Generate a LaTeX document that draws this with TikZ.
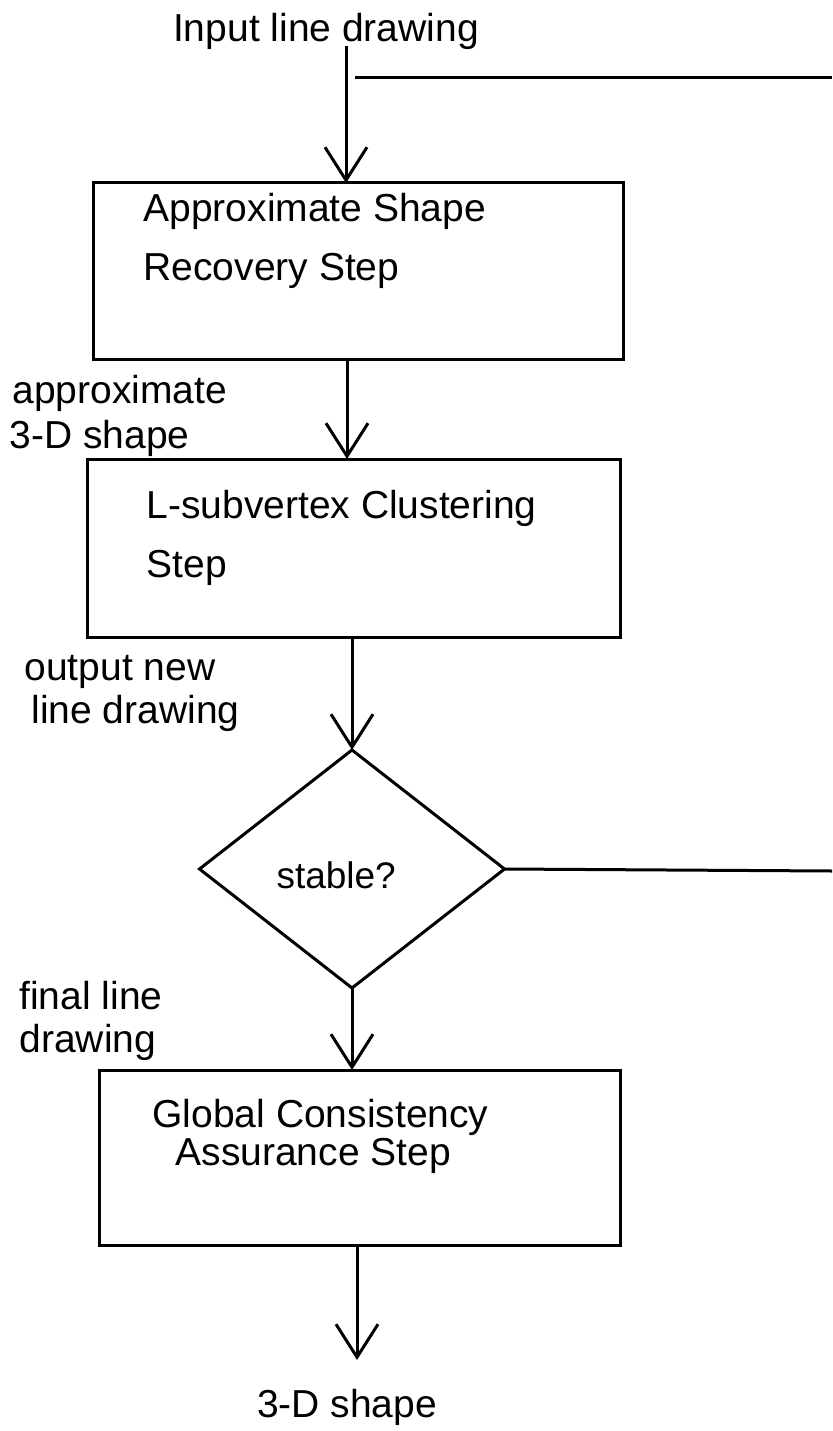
\documentclass[tikz,border=0pt]{standalone}
\usepackage{fontspec}
\setmainfont{Liberation Sans}
\usetikzlibrary{arrows.meta,shapes.geometric}
\begin{document}
\begin{tikzpicture}[x=1pt,y=-1pt,
  line width=3pt,
  box/.style={draw, rectangle, inner sep=0pt, outer sep=0pt},
  lbl/.style={anchor=base west, inner sep=0pt, font=\fontsize{39}{46}\selectfont},
  arr/.style={-{Straight Barb[length=33pt,width=42pt]}},
]
\useasboundingbox (0,0) rectangle (832,1431);

% boxes
\node[box, minimum width=530pt, minimum height=176pt] (box1) at (358,271) {};
\node[box, minimum width=533pt, minimum height=178pt] (box2) at (353.5,548) {};
\node[draw, diamond, inner sep=0pt, outer sep=0pt, minimum width=305pt, minimum height=238pt] (dia) at (352,869) {};
\node[box, minimum width=521pt, minimum height=175pt] (box3) at (359.5,1157.5) {};

% texts
\node[lbl, anchor=base] (tIn) at (326,42) {Input line drawing};
\node[lbl] (t1a) at (142,222) {Approximate Shape};
\node[lbl] (t1b) at (142,280) {Recovery Step};
\node[lbl] (tApp) at (11,403) {approximate};
\node[lbl] (tApp2) at (8,448) {3-D shape};
\node[lbl] (t2a) at (145,518) {L-subvertex Clustering};
\node[lbl] (t2b) at (145,577) {Step};
\node[lbl] (tOut) at (23,680) {output new};
\node[lbl] (tOut2) at (30,723) {line drawing};
\node[lbl, font=\fontsize{37}{44}\selectfont] (tSt) at (275,888) {stable?};
\node[lbl] (tFin) at (18,1009) {final line};
\node[lbl] (tFin2) at (18,1052) {drawing};
\node[lbl] (t3a) at (151,1127) {Global Consistency};
\node[lbl] (t3b) at (174,1165) {Assurance Step};
\node[lbl, anchor=base] (tOutS) at (347,1417) {3-D shape};

% connector coordinates
\coordinate (inTop) at (346,46);
\coordinate (a2) at (347,0);
\coordinate (a5) at (357,0);
\coordinate (outEnd) at (357,1360);
\coordinate (topS) at (355,78);
\coordinate (topE) at (832,78);
\coordinate (rightE) at (832,871);

% connectors
\draw[arr] (inTop) -- (inTop |- box1.north);
\draw[arr] (a2 |- box1.south) -- (a2 |- box2.north);
\draw[arr] (dia.north |- box2.south) -- (dia.north);
\draw[arr] (dia.south) -- (dia.south |- box3.north);
\draw[arr] (a5 |- box3.south) -- (outEnd);
\draw (topS) -- (topE);
\draw (dia.east) -- (rightE);
\end{tikzpicture}
\end{document}
